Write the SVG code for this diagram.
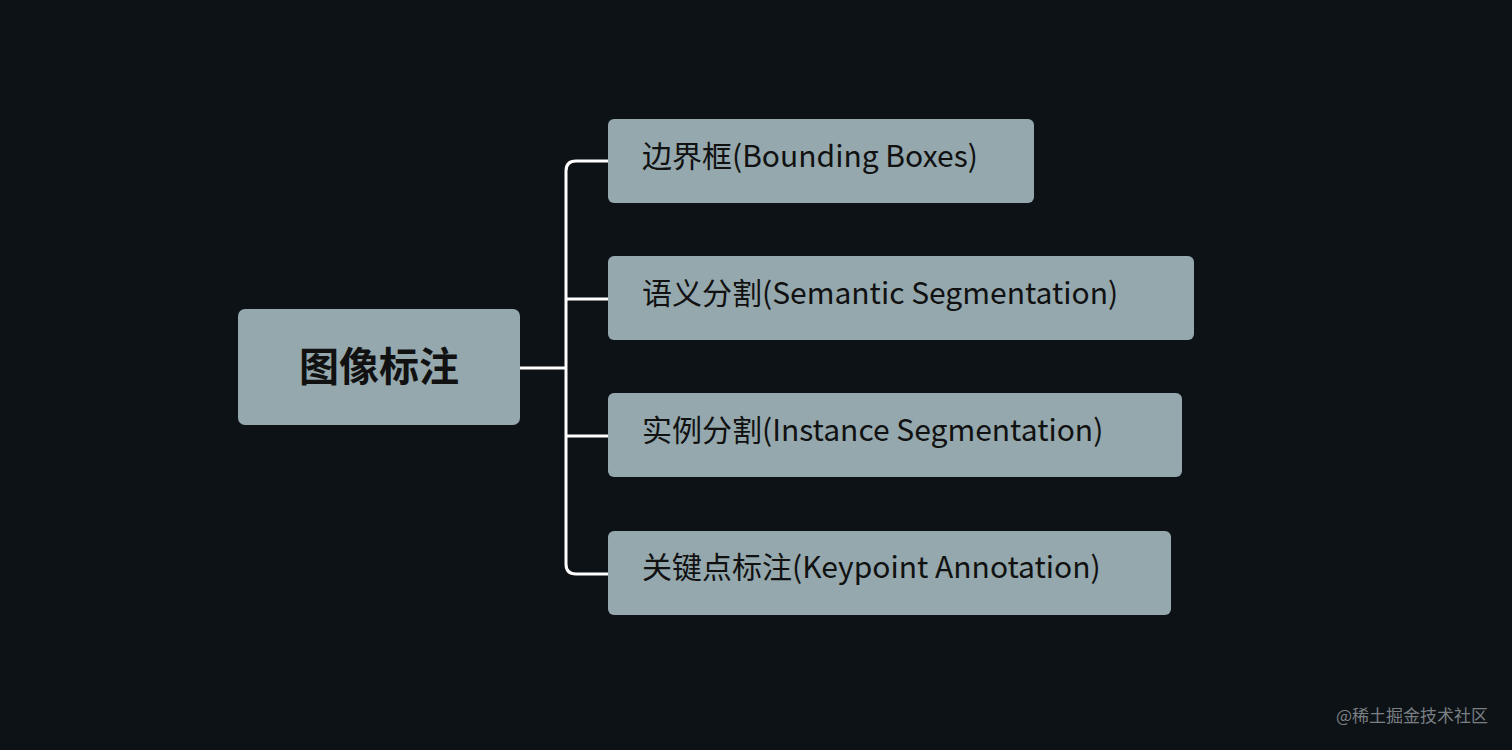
<svg xmlns="http://www.w3.org/2000/svg" width="1512" height="750" viewBox="0 0 1512 750">
<style>
.n{fill:#94a8ad}
.t{font-family:"Noto Sans CJK SC","Noto Sans",sans-serif;font-size:30px;fill:#111}
.c{fill:none;stroke:#fff;stroke-width:3}
</style>
<rect width="1512" height="750" fill="#0d1216"/>
<g id="connectors">
<path class="c" d="M520 368H566M608 161H576Q566 161 566 171V564Q566 574 576 574H608M566 299H608M566 436H608"/>
</g>
<g id="root"><rect class="n" x="238" y="309" width="282" height="116" rx="7"/>
<text x="379" y="381" text-anchor="middle" style="font-family:'Noto Sans CJK SC',sans-serif;font-size:40px;font-weight:bold;fill:#111">图像标注</text></g>
<g id="n1"><rect class="n" x="608" y="119" width="426" height="84" rx="6"/><text class="t" x="642" y="167">边界框(Bounding Boxes)</text></g>
<g id="n2"><rect class="n" x="608" y="256" width="586" height="84" rx="6"/><text class="t" x="642" y="304">语义分割(Semantic Segmentation)</text></g>
<g id="n3"><rect class="n" x="608" y="393" width="574" height="84" rx="6"/><text class="t" x="642" y="441">实例分割(Instance Segmentation)</text></g>
<g id="n4"><rect class="n" x="608" y="531" width="563" height="84" rx="6"/><text class="t" x="642" y="578">关键点标注(Keypoint Annotation)</text></g>
<text x="1488" y="722" text-anchor="end" style="font-family:'Noto Sans CJK SC',sans-serif;font-size:17px;fill:#7a7f84">@稀土掘金技术社区</text>
</svg>
